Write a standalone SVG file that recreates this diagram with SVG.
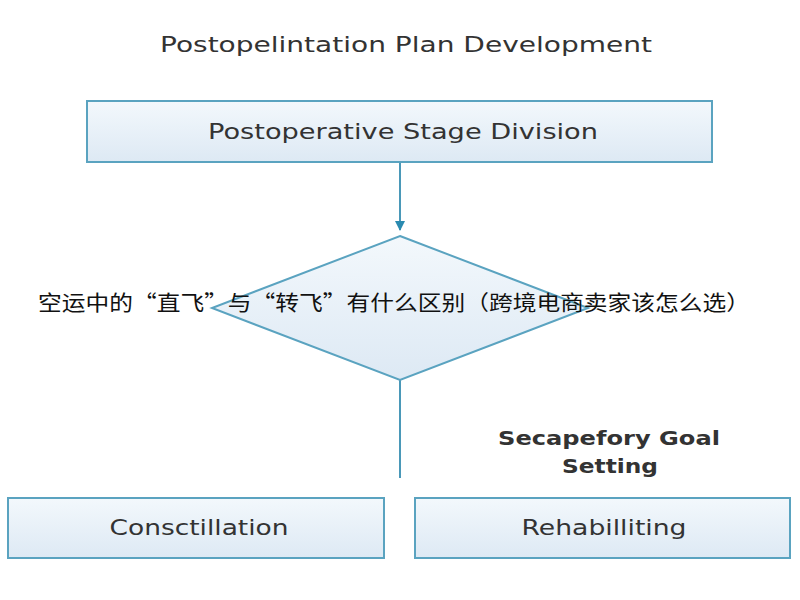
<svg xmlns="http://www.w3.org/2000/svg" width="800" height="600" viewBox="0 0 800 600">
<style>
.box{fill:url(#g);stroke:#5aa3c0;stroke-width:2}
.t{font-family:"DejaVu Sans","Liberation Sans",sans-serif;fill:#333;text-anchor:middle}
.c{stroke:#4a98b8;stroke-width:2;fill:none}
</style>
<defs>
<linearGradient id="g" x1="0" y1="0" x2="0" y2="1"><stop offset="0" stop-color="#f3f8fc"/><stop offset="1" stop-color="#dde9f4"/></linearGradient>
<marker id="a" markerWidth="10" markerHeight="10" refX="9" refY="5" orient="auto" markerUnits="userSpaceOnUse"><path d="M0,0L10,5L0,10z" fill="#2a8ab0"/></marker>
</defs>
<rect width="800" height="600" fill="#fff"/>
<text class="t" x="406" y="52" font-size="21" textLength="492" lengthAdjust="spacingAndGlyphs">Postopelintation Plan Development</text>
<g id="connectors">
<line class="c" x1="400" y1="162" x2="400" y2="230" marker-end="url(#a)"/>
<line class="c" x1="400" y1="380" x2="400" y2="478"/>
</g>
<g id="stage"><rect class="box" x="87" y="101" width="625" height="61"/><text class="t" x="403" y="139" font-size="21" textLength="390" lengthAdjust="spacingAndGlyphs">Postoperative Stage Division</text></g>
<g id="decision"><polygon class="box" points="400,236 588,308 400,380 212,308"/>
<text x="394" y="310" font-size="21" fill="#111" text-anchor="middle" textLength="712" lengthAdjust="spacingAndGlyphs" font-family="'Noto Sans CJK SC',sans-serif">空运中的“直飞”与“转飞”有什么区别（跨境电商卖家该怎么选）</text></g>
<g id="goal"><text class="t" x="609" y="445" font-size="19" font-weight="bold" fill="#222" textLength="222" lengthAdjust="spacingAndGlyphs">Secapefory Goal</text><text class="t" x="610" y="473" font-size="19" font-weight="bold" fill="#222" textLength="96" lengthAdjust="spacingAndGlyphs">Setting</text></g>
<g id="consult"><rect class="box" x="8" y="498" width="376" height="60"/><text class="t" x="199" y="535" font-size="21" textLength="179" lengthAdjust="spacingAndGlyphs">Consctillation</text></g>
<g id="rehab"><rect class="box" x="415" y="498" width="375" height="60"/><text class="t" x="604" y="535" font-size="21" textLength="165" lengthAdjust="spacingAndGlyphs">Rehabilliting</text></g>
</svg>
